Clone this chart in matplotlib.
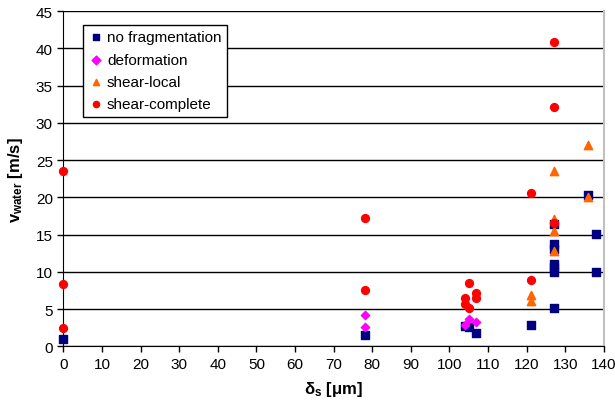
import matplotlib
matplotlib.use('Agg')
import matplotlib.pyplot as plt

plt.rcParams['font.family'] = ['Liberation Sans', 'DejaVu Sans']
plt.rcParams['mathtext.fontset'] = 'custom'
plt.rcParams['mathtext.rm'] = 'Liberation Sans'
plt.rcParams['mathtext.it'] = 'Liberation Sans:italic'
plt.rcParams['mathtext.bf'] = 'Liberation Sans:bold'

# no fragmentation
nofrag_x = [0, 78, 104, 105, 107, 121, 127, 127, 127, 127, 127, 127, 127, 136, 138, 138]
nofrag_y = [1.0, 1.5, 2.7, 2.55, 1.8, 2.85, 16.4, 13.75, 13.1, 11.05, 10.6, 10.0, 5.1, 20.25, 15.05, 10.0]

# deformation
deform_x = [78, 78, 104, 105, 107]
deform_y = [4.25, 2.55, 2.9, 3.6, 3.27]

# shear-local
local_x = [121, 121, 127, 127, 127, 127, 136, 136]
local_y = [6.9, 6.1, 23.5, 17.1, 15.45, 12.8, 27.05, 20.0]

# shear-complete
complete_x = [0, 0, 0, 78, 78, 104, 104, 105, 105, 107, 107, 121, 121, 127, 127, 127]
complete_y = [23.5, 8.4, 2.5, 17.2, 7.55, 6.5, 5.7, 8.45, 5.1, 7.1, 6.45, 20.6, 8.9, 40.8, 32.1, 16.6]

fig = plt.figure(figsize=(6.15, 4.06), dpi=100)
ax = fig.add_axes([0.1029, 0.1446, 0.8791, 0.8254])

ax.scatter(nofrag_x, nofrag_y, marker='s', s=30, color='#000080', label='no fragmentation', zorder=3, clip_on=False)
ax.scatter(deform_x, deform_y, marker='D', s=18, color='#FF00FF', label='deformation', zorder=3, clip_on=False)
ax.scatter(local_x, local_y, marker='^', s=36, color='#FF6600', label='shear-local', zorder=3, clip_on=False)
ax.scatter(complete_x, complete_y, marker='o', s=32, color='#FF0000', label='shear-complete', zorder=4, clip_on=False)

ax.set_xlim(0, 140)
ax.set_ylim(0, 45)
ax.set_xticks(range(0, 141, 10))
ax.set_yticks(range(0, 46, 5))
ax.tick_params(direction='out', length=4, labelsize=11, width=1)
ax.yaxis.grid(True, color='black', linewidth=1)
ax.set_axisbelow(True)

ax.spines['top'].set_visible(False)
ax.spines['right'].set_color('#c0c0c0')
ax.spines['right'].set_linewidth(1.5)

ax.set_xlabel(r'$\mathbf{δ_s}$ [μm]', fontsize=12, fontweight='bold', labelpad=6)
ax.set_ylabel(r'$\mathbf{v_{water}}$ [m/s]', fontsize=12, fontweight='bold', labelpad=8)

leg = ax.legend(loc='upper left', bbox_to_anchor=(0.037, 0.959), borderaxespad=0, fontsize=11,
                frameon=True, fancybox=False, edgecolor='black', framealpha=1, handletextpad=0.2,
                borderpad=0.35, labelspacing=0.55, handlelength=1.0, scatterpoints=1)
leg.get_frame().set_linewidth(1)
for h in leg.legend_handles:
    h.set_sizes([20])

fig.savefig('out.png', dpi=100)
